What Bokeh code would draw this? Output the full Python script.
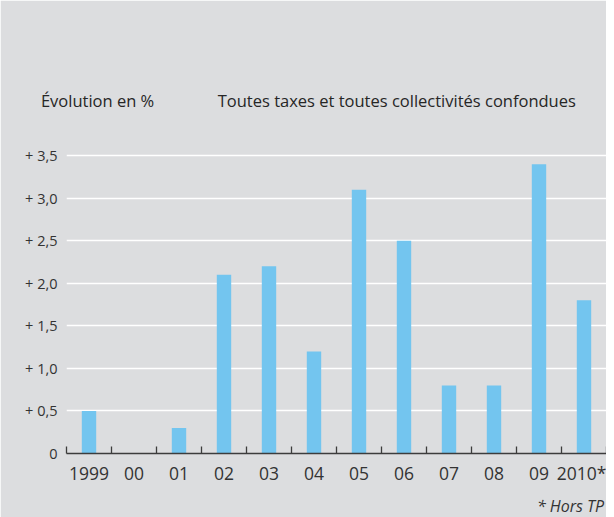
from bokeh.plotting import figure
from bokeh.models import Range1d, FixedTicker, LinearAxis, ColumnDataSource
from bokeh.embed import file_html
from bokeh.resources import INLINE

# ---- data ----
years = ["1999", "00", "01", "02", "03", "04", "05", "06", "07", "08", "09", "2010*"]
values = [0.5, 0.0, 0.3, 2.1, 2.2, 1.2, 3.1, 2.5, 0.8, 0.8, 3.4, 1.8]
y_ticks = [0, 0.5, 1.0, 1.5, 2.0, 2.5, 3.0, 3.5]
y_tick_labels = ["0", "+ 0,5", "+ 1,0", "+ 1,5", "+ 2,0", "+ 2,5", "+ 3,0", "+ 3,5"]
y_title = "Évolution en %"
chart_title = "Toutes taxes et toutes collectivités confondues"
note = "* Hors TP"

# ---- style / placement ----
BG = "#dcdddf"
BAR = "#73c5ef"
TXT = "#333333"
AXC = "#3c3c3c"
FONT = "Open Sans"
Y_TITLE_POS = 0.69
TITLE_POS = 7.34
NOTE_POS = 11.2

n = len(years)
centers = [i + 0.5 for i in range(n)]
bounds = list(range(n + 1))

src = ColumnDataSource(dict(x=centers, top=values, year=years))

p = figure(width=606, height=509, frame_width=540, frame_height=328,
           x_range=Range1d(0, n), y_range=Range1d(0, 3.855),
           output_backend="svg", toolbar_location=None,
           min_border_left=66, min_border_right=0, min_border_top=125,
           min_border_bottom=56)
p.background_fill_color = BG
p.border_fill_color = BG
p.outline_line_color = BG
p.outline_line_width = 1.5

p.vbar(x="x", top="top", bottom=0, width=0.32, source=src,
       fill_color=BAR, line_color=None)

# x axis
xa = p.xaxis[0]
xa.ticker = FixedTicker(ticks=centers, minor_ticks=bounds)
xa.major_label_overrides = {c: y for c, y in zip(centers, years)}
xa.major_tick_in = 0
xa.major_tick_out = 0
xa.minor_tick_in = 7
xa.minor_tick_out = 0
xa.minor_tick_line_color = AXC
xa.minor_tick_line_width = 1.3
xa.axis_line_color = AXC
xa.axis_line_width = 1.3
xa.major_label_text_font = FONT
xa.major_label_text_font_size = "17.5px"
xa.major_label_text_color = TXT
xa.major_label_standoff = 7

# footnote as a second bottom axis
na = LinearAxis(ticker=FixedTicker(ticks=[NOTE_POS]),
                major_label_overrides={NOTE_POS: note})
na.axis_line_color = None
na.major_tick_line_color = None
na.minor_tick_line_color = None
na.major_label_text_font = FONT
na.major_label_text_font_style = "italic"
na.major_label_text_font_size = "16px"
na.major_label_text_color = TXT
na.major_label_standoff = 1
p.add_layout(na, "below")

# titles as an axis above
ta = LinearAxis(ticker=FixedTicker(ticks=[Y_TITLE_POS, TITLE_POS]),
                major_label_overrides={Y_TITLE_POS: y_title, TITLE_POS: chart_title})
ta.axis_line_color = None
ta.major_tick_line_color = None
ta.minor_tick_line_color = None
ta.major_label_text_font = FONT
ta.major_label_text_font_size = "16.5px"
ta.major_label_text_color = "#262626"
ta.major_label_standoff = 8
p.add_layout(ta, "above")

# y axis
ya = p.yaxis[0]
ya.ticker = FixedTicker(ticks=y_ticks)
ya.major_label_overrides = {t: l for t, l in zip(y_ticks, y_tick_labels)}
ya.axis_line_color = None
ya.major_tick_line_color = None
ya.minor_tick_line_color = None
ya.major_tick_in = 0
ya.major_tick_out = 0
ya.major_label_text_font = FONT
ya.major_label_text_font_size = "14.5px"
ya.major_label_text_color = TXT
ya.major_label_standoff = 9

p.xgrid.visible = False
p.ygrid.ticker = FixedTicker(ticks=y_ticks[1:])
p.ygrid.grid_line_color = "white"
p.ygrid.grid_line_width = 1.5

open("out.html", "w").write(file_html(p, INLINE))
